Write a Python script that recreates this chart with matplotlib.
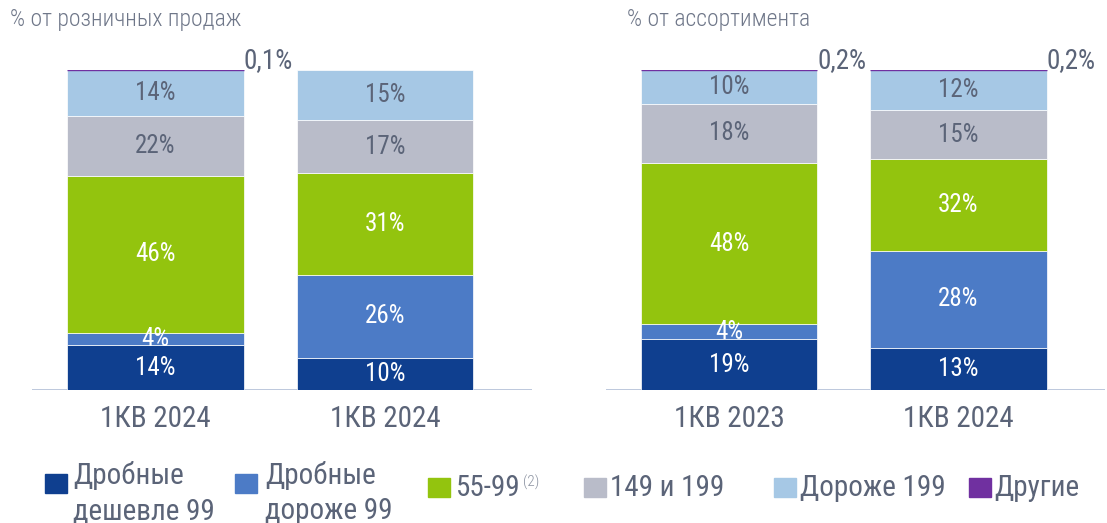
import matplotlib
matplotlib.use("Agg")
import matplotlib.pyplot as plt
from matplotlib.patches import Rectangle

plt.rcParams["font.family"] = ["Roboto Condensed", "Roboto", "DejaVu Sans"]

W, H = 1107, 523
TXT, TITLE = "#5b6478", "#6f7789"
COLORS = ["#0f3f8f", "#4c7bc6", "#93c40e", "#b9bcc9", "#a6c8e5", "#7030a0"]
LBL_COL = ["white", "white", "white", TXT, TXT]

series = ["Дробные\nдешевле 99", "Дробные\nдороже 99", "55-99", "149 и 199", "Дороже 199", "Другие"]

# bar heights as drawn (per series, bottom -> top), labels as printed
sales_cats = ["1КВ 2024", "1КВ 2024"]
sales_bar1 = [14.0, 3.75, 49.2, 18.8, 14.3, 0.1]
sales_bar2 = [10.1, 25.8, 31.8, 16.7, 15.6, 0.0]
sales_lbl1 = [14, 4, 46, 22, 14]
sales_lbl2 = [10, 26, 31, 17, 15]
sales_other = ["0,1%", None]

assort_cats = ["1КВ 2023", "1КВ 2024"]
assort_bar1 = [15.8, 4.7, 50.5, 18.5, 10.4, 0.2]
assort_bar2 = [13.2, 30.3, 28.6, 15.3, 12.5, 0.2]
assort_lbl1 = [19, 4, 48, 18, 10]
assort_lbl2 = [13, 28, 32, 15, 12]
assort_other = ["0,2%", "0,2%"]

fx = lambda x: x / W
fy = lambda y: 1 - y / H

fig = plt.figure(figsize=(W / 100, H / 100), dpi=100)


def panel(x0, x1, cats, bars, lbls, others, title, tx):
    ax = fig.add_axes([fx(x0), fy(390), fx(x1) - fx(x0), fy(70) - fy(390)])
    bw = 0.77
    for i, (vals, lab) in enumerate(zip(bars, lbls)):
        bottom = 0
        for j, v in enumerate(vals):
            if v <= 0:
                continue
            if j == 5:
                ax.bar(i, v, bw, bottom=bottom, color=COLORS[j], edgecolor=COLORS[j], linewidth=1)
            else:
                ax.bar(i, v, bw, bottom=bottom, color=COLORS[j], edgecolor="white", linewidth=0.5)
                ax.text(i, bottom + v / 2, f"{lab[j]}%", ha="center", va="center",
                        color=LBL_COL[j], fontsize=18)
            bottom += v
        if others[i]:
            ax.annotate(others[i], (i + bw / 2, bottom), xytext=(0, 1),
                        textcoords="offset points", ha="left", va="baseline",
                        color=TXT, fontsize=19.5, annotation_clip=False)
    ax.set_xlim(-0.537, 1.64)
    ax.set_ylim(0, 100)
    ax.axhline(0, color="#b7c3d9", lw=2, zorder=0)
    ax.set_xticks(range(len(cats)))
    ax.set_xticklabels(cats, fontsize=21, color=TXT)
    ax.tick_params(axis="x", length=0, pad=11)
    ax.set_yticks([])
    for s in ax.spines.values():
        s.set_visible(False)
    fig.text(fx(tx), fy(8), title, ha="left", va="top", color=TITLE,
             fontsize=17, fontweight="light")


panel(32, 532, sales_cats, [sales_bar1, sales_bar2], [sales_lbl1, sales_lbl2],
      sales_other, "% от розничных продаж", 10)
panel(606, 1105, assort_cats, [assort_bar1, assort_bar2], [assort_lbl1, assort_lbl2],
      assort_other, "% от ассортимента", 627)

# legend, drawn by hand
sq_x = [45, 235, 428, 584, 774, 969]
tx_x = [73, 265, 456, 610, 800, 994]
for k, name in enumerate(series):
    lines = name.split("\n")
    top = 474 if len(lines) > 1 else 478
    fig.add_artist(Rectangle((fx(sq_x[k]), fy(top + 19)), 22 / W, 19 / H,
                             transform=fig.transFigure, color=COLORS[k]))
    if len(lines) > 1:
        fig.text(fx(tx_x[k]), fy(484), lines[0], va="baseline", color=TXT, fontsize=21)
        fig.text(fx(tx_x[k]), fy(519), lines[1], va="baseline", color=TXT, fontsize=21)
    else:
        t = fig.text(fx(tx_x[k]), fy(496), lines[0], va="baseline", color=TXT, fontsize=21)
        if k == 2:
            fig.text(fx(523), fy(487), "(2)", va="baseline", color="#8a91a0",
                     fontsize=11, fontweight="light")

fig.savefig("out.png", dpi=100)
